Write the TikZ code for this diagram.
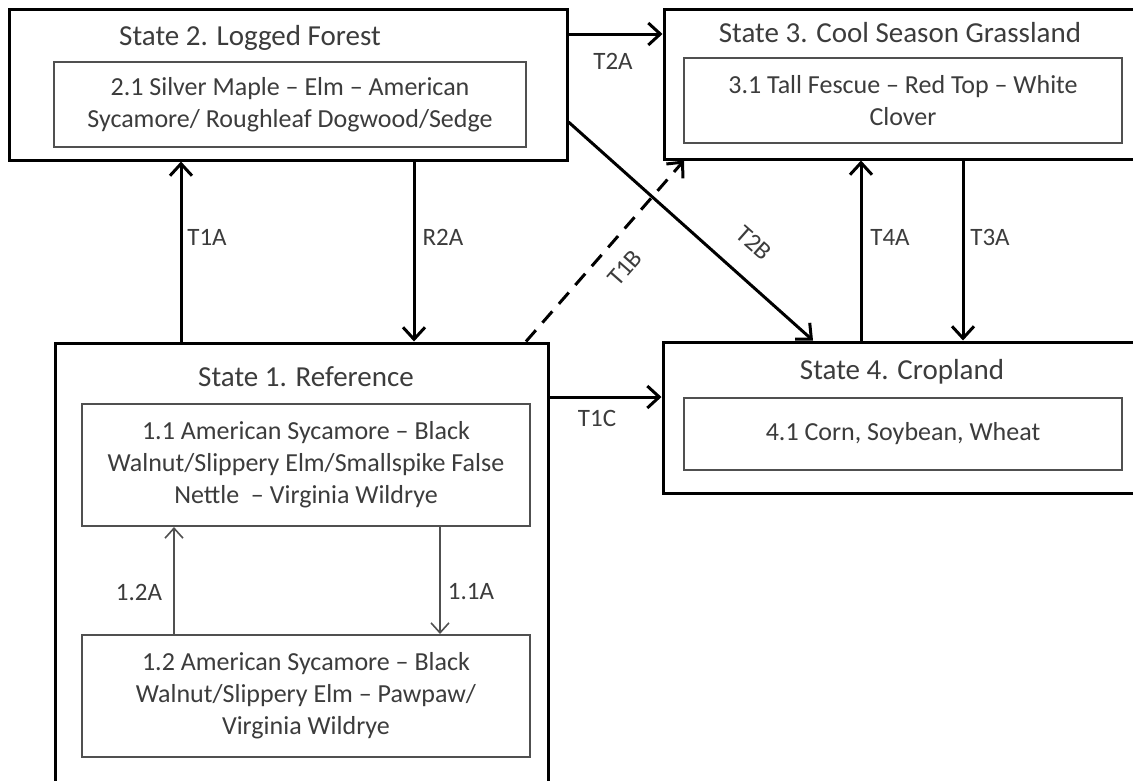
\documentclass[tikz,border=0pt]{standalone}
\usepackage{fontspec}
\setmainfont{Carlito}
\usetikzlibrary{arrows.meta}
\definecolor{txt}{HTML}{3C3C3C}
\definecolor{inbox}{HTML}{505050}
\tikzset{
  outerbox/.style={draw=black, line width=3pt, rectangle, inner sep=0pt, fill=none},
  innerbox/.style={draw=inbox, line width=2pt, rectangle, inner sep=0pt, text=txt, align=center,
                   font=\fontsize{26}{32}\selectfont},
  titletext/.style={text=txt, inner sep=0pt, font=\fontsize{29}{34}\selectfont},
  lbl/.style={text=txt, inner sep=0pt, font=\fontsize{25}{30}\selectfont},
  arr/.style={draw=black, line width=3pt, -{Straight Barb[length=12pt,width=22pt,line width=3pt]}},
  thinarr/.style={draw=inbox, line width=1.6pt, -{Straight Barb[length=10pt,width=18pt,line width=1.6pt]}},
  dasharr/.style={arr, dash pattern=on 15pt off 10pt}
}
\begin{document}
\begin{tikzpicture}[x=1pt,y=-1pt]
\useasboundingbox (0,0) rectangle (1133,780);
\fill[white] (0,0) rectangle (1133,780);
\clip (0,0) rectangle (1133,780);
% State 2
\node[outerbox, minimum width=558pt, minimum height=151pt] (s2) at (288,84.5) {};
\node[titletext] (s2t) at (250,38) {State 2. Logged Forest};
\node[innerbox, minimum width=472pt, minimum height=85pt] (b21) at (290,104.5) {2.1 Silver Maple -- Elm -- American\\Sycamore/ Roughleaf Dogwood/Sedge};
% State 3
\node[outerbox, minimum width=480pt, minimum height=150pt] (s3) at (904,84) {};
\node[titletext] (s3t) at (900,33) {State 3. Cool Season Grassland};
\node[innerbox, minimum width=438pt, minimum height=85pt] (b31) at (903,100.5) {3.1 Tall Fescue -- Red Top -- White\\Clover};
% State 1
\node[outerbox, minimum width=493pt, minimum height=460pt] (s1) at (301.5,573) {};
\node[titletext] (s1t) at (306,377) {State 1. Reference};
\node[innerbox, minimum width=448pt, minimum height=122pt] (b11) at (306,465) {1.1 American Sycamore -- Black\\Walnut/Slippery Elm/Smallspike False\\Nettle \ -- Virginia Wildrye};
\node[innerbox, minimum width=448pt, minimum height=122pt] (b12) at (306,696) {1.2 American Sycamore -- Black\\Walnut/Slippery Elm -- Pawpaw/\\Virginia Wildrye};
% State 4
\node[outerbox, minimum width=480pt, minimum height=151pt] (s4) at (903,417.5) {};
\node[titletext] (s4t) at (902,372) {State 4. Cropland};
\node[innerbox, minimum width=438pt, minimum height=72pt] (b41) at (903,434) {4.1 Corn, Soybean, Wheat};
% named x/y positions
\coordinate (xT1A) at (181,0);
\coordinate (xR2A) at (414,0);
\coordinate (yT2A) at (0,34);
\coordinate (yT2B) at (0,122);
\coordinate (xT2B) at (813,0);
\coordinate (xT1Bs) at (526,0);
\coordinate (xT1Be) at (684,0);
\coordinate (yT1C) at (0,397);
\coordinate (xT4A) at (861,0);
\coordinate (xT3A) at (963,0);
\coordinate (x12A) at (174,0);
\coordinate (x11A) at (440,0);
% connectors
\draw[arr] (s1.north -| xT1A) -- (s2.south -| xT1A);
\draw[arr] (s2.south -| xR2A) -- (s1.north -| xR2A);
\draw[arr] (s2.east |- yT2A) -- (s3.west |- yT2A);
\draw[arr] (s2.east |- yT2B) -- (s4.north -| xT2B);
\draw[dasharr] (s1.north -| xT1Bs) -- (s3.south -| xT1Be);
\draw[arr] (s1.east |- yT1C) -- (s4.west |- yT1C);
\draw[arr] (s4.north -| xT4A) -- (s3.south -| xT4A);
\draw[arr] (s3.south -| xT3A) -- (s4.north -| xT3A);
\draw[thinarr] (b12.north -| x12A) -- (b11.south -| x12A);
\draw[thinarr] (b11.south -| x11A) -- (b12.north -| x11A);
% labels
\node[lbl] (lT1A) at (207,237) {T1A};
\node[lbl] (lR2A) at (443,237) {R2A};
\node[lbl] (lT2A) at (613,61) {T2A};
\node[lbl, rotate=-41.5] (lT2B) at (754,243) {T2B};
\node[lbl, rotate=48.7] (lT1B) at (625,268) {T1B};
\node[lbl] (lT1C) at (597,418) {T1C};
\node[lbl] (lT4A) at (890,237) {T4A};
\node[lbl] (lT3A) at (990,237) {T3A};
\node[lbl] (l12A) at (139,592) {1.2A};
\node[lbl] (l11A) at (471,592) {1.1A};
\end{tikzpicture}
\end{document}
